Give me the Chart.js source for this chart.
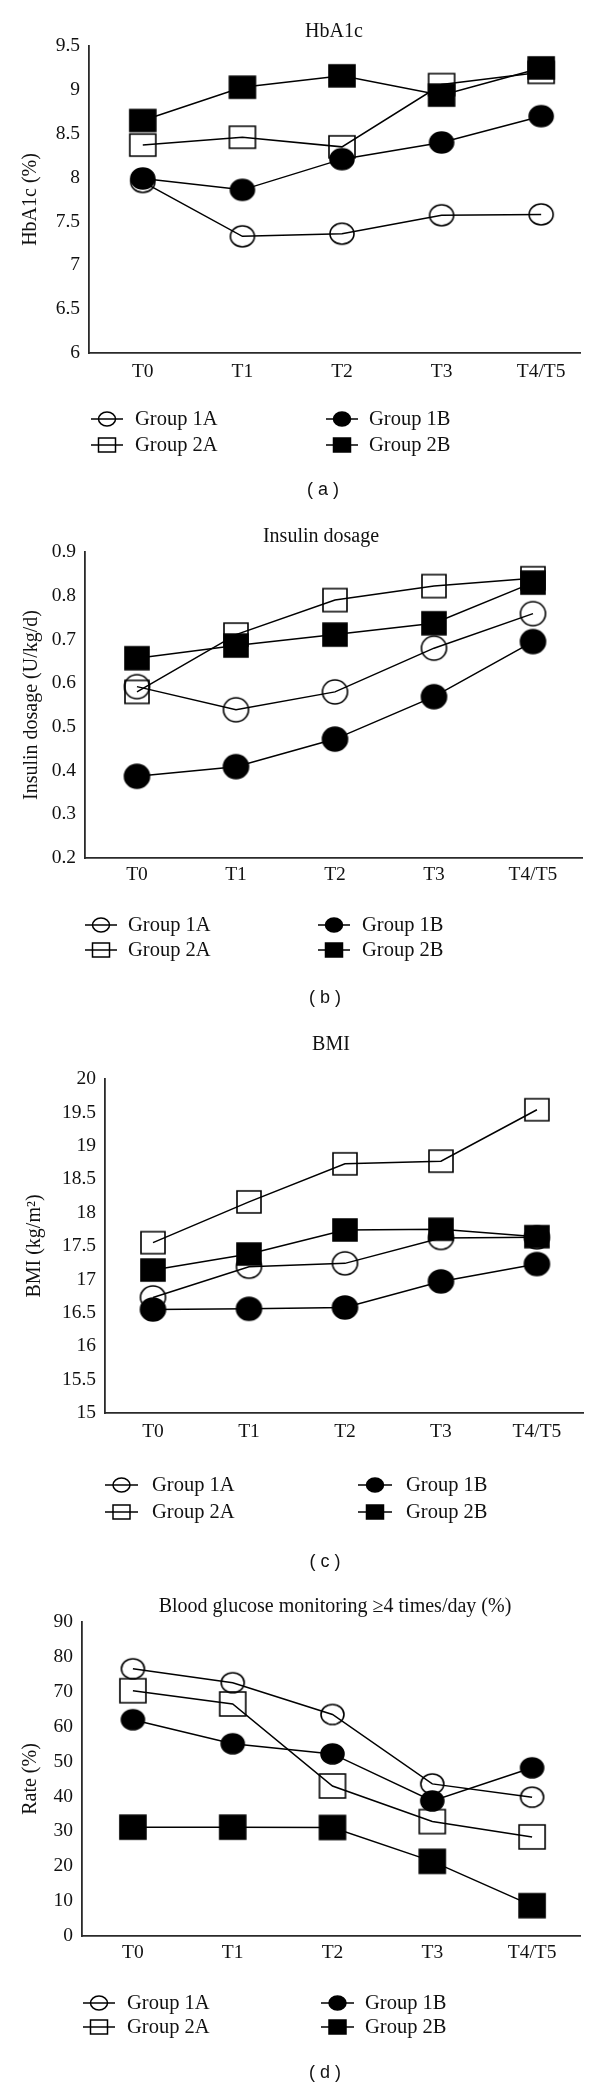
<!DOCTYPE html>
<html><head><meta charset="utf-8">
<script src="https://cdn.jsdelivr.net/npm/chart.js@4.4.1/dist/chart.umd.min.js"></script>
<style>
html,body{margin:0;padding:0;background:#fff}
body{width:600px;height:2090px;position:relative;overflow:hidden}
canvas{position:absolute;left:0;display:block}
</style></head><body>
<canvas id="ca" width="600" height="505" style="top:0px"></canvas>
<canvas id="cb" width="600" height="515" style="top:505px"></canvas>
<canvas id="cc" width="600" height="555" style="top:1020px"></canvas>
<canvas id="cd" width="600" height="515" style="top:1575px"></canvas>
<script>
// ---- data ----
const timePoints = ['T0', 'T1', 'T2', 'T3', 'T4/T5'];
const groupLabels = ['Group 1A', 'Group 1B', 'Group 2A', 'Group 2B'];

const hba1c1A = [7.95, 7.33, 7.36, 7.57, 7.58];
const hba1c1B = [7.99, 7.86, 8.21, 8.40, 8.70];
const hba1c2A = [8.37, 8.46, 8.35, 9.06, 9.20];
const hba1c2B = [8.65, 9.03, 9.16, 8.94, 9.25];

const insulin1A = [0.592, 0.539, 0.580, 0.680, 0.759];
const insulin1B = [0.387, 0.409, 0.472, 0.569, 0.695];
const insulin2A = [0.580, 0.711, 0.790, 0.822, 0.840];
const insulin2B = [0.657, 0.686, 0.711, 0.737, 0.830];

const bmi1A = [16.73, 17.19, 17.24, 17.62, 17.63];
const bmi1B = [16.55, 16.56, 16.58, 16.97, 17.23];
const bmi2A = [17.55, 18.16, 18.73, 18.77, 19.54];
const bmi2B = [17.14, 17.38, 17.74, 17.75, 17.64];

const bg1A = [76.6, 72.6, 63.5, 43.6, 39.8];
const bg1B = [62.0, 55.1, 52.2, 38.7, 48.2];
const bg2A = [70.3, 66.5, 43.0, 32.8, 28.4];
const bg2B = [31.2, 31.2, 31.1, 21.4, 8.7];

// ---- styling ----
const SERIF = "'Liberation Serif', 'Times New Roman', serif";
const SANS = "'Liberation Sans', Arial, sans-serif";
const INK = '#111';
const groupStyles = [
  {shape: 'circle', filled: false},
  {shape: 'circle', filled: true},
  {shape: 'rect', filled: false},
  {shape: 'rect', filled: true}
];
const drawOrder = [3, 1, 2, 0];

const panels = [
  { id: 'ca', height: 505, title: 'HbA1c', titleX: 334, titleY: 32, yTitle: 'HbA1c (%)', yTitlePad: 20,
    left: 89, right: 580, chartTop: 46, chartBottom: 353, xMin: -0.54, xMax: 4.39,
    yMin: 6, yMax: 9.5, yStep: 0.5, xPad: 8,
    legendRows: [419, 445], legendCols: [{x1: 91, x2: 123, tx: 135}, {x1: 326, x2: 358, tx: 369}],
    label: '( a )', labelX: 323, labelY: 490,
    series: [hba1c1A, hba1c1B, hba1c2A, hba1c2B], marker: {cw: 24, ch: 21, sw: 26, sh: 22} },
  { id: 'cb', height: 515, title: 'Insulin dosage', titleX: 321, titleY: 32, yTitle: 'Insulin dosage (U/kg/d)', yTitlePad: 21,
    left: 85, right: 582, chartTop: 47, chartBottom: 353, xMin: -0.525, xMax: 4.495,
    yMin: 0.2, yMax: 0.9, yStep: 0.1, xPad: 6,
    legendRows: [420, 445], legendCols: [{x1: 85, x2: 117, tx: 128}, {x1: 318, x2: 350, tx: 362}],
    label: '( b )', labelX: 325, labelY: 493,
    series: [insulin1A, insulin1B, insulin2A, insulin2B], marker: {cw: 25, ch: 24, sw: 24, sh: 23} },
  { id: 'cc', height: 555, title: 'BMI', titleX: 331, titleY: 25, yTitle: 'BMI (kg/m²)', yTitlePad: 24,
    left: 105, right: 583, chartTop: 59, chartBottom: 393, xMin: -0.5, xMax: 4.48,
    yMin: 15, yMax: 20, yStep: 0.5, xPad: 8,
    legendRows: [465, 492], legendCols: [{x1: 105, x2: 138, tx: 152}, {x1: 358, x2: 392, tx: 406}],
    label: '( c )', labelX: 325, labelY: 542,
    series: [bmi1A, bmi1B, bmi2A, bmi2B], marker: {cw: 25, ch: 23, sw: 24, sh: 22} },
  { id: 'cd', height: 515, title: 'Blood glucose monitoring ≥4 times/day (%)', titleX: 335, titleY: 32, yTitle: 'Rate (%)', yTitlePad: 20,
    left: 82, right: 580, chartTop: 47, chartBottom: 361, xMin: -0.51, xMax: 4.48,
    yMin: 0, yMax: 90, yStep: 10, xPad: 6,
    legendRows: [428, 452], legendCols: [{x1: 83, x2: 115, tx: 127}, {x1: 321, x2: 354, tx: 365}],
    label: '( d )', labelX: 325, labelY: 498,
    series: [bg1A, bg1B, bg2A, bg2B], marker: {cw: 23, ch: 20, sw: 26, sh: 24} }
];

function markerPath(ctx, shape, x, y, w, h) {
  ctx.beginPath();
  if (shape === 'circle') ctx.ellipse(x, y, w / 2, h / 2, 0, 0, Math.PI * 2);
  else ctx.rect(x - w / 2, y - h / 2, w, h);
}

function markerImage(shape, filled, w, h) {
  const c = document.createElement('canvas');
  c.width = w + 4; c.height = h + 4;
  const g = c.getContext('2d');
  g.lineWidth = 1.6; g.strokeStyle = '#000'; g.fillStyle = '#000';
  markerPath(g, shape, c.width / 2, c.height / 2, w, h);
  if (filled) g.fill();
  g.stroke();
  return c;
}

function makeDecor(p) {
  return {
    id: 'panelDecor',
    afterDraw(chart) {
      const ctx = chart.ctx;
      ctx.save();
      ctx.fillStyle = INK;
      ctx.textBaseline = 'middle';
      ctx.textAlign = 'center';
      ctx.font = '20px ' + SERIF;
      ctx.fillText(p.title, p.titleX, p.titleY);
      // legend
      ctx.textAlign = 'left';
      chart.data.datasets.forEach((ds, i) => {
        const col = p.legendCols[i % 2];
        const y = p.legendRows[Math.floor(i / 2)];
        ctx.strokeStyle = '#000';
        ctx.fillStyle = '#000';
        ctx.lineWidth = 1.5;
        ctx.beginPath();
        ctx.moveTo(col.x1, y); ctx.lineTo(col.x2, y);
        ctx.stroke();
        markerPath(ctx, ds.markerShape, (col.x1 + col.x2) / 2, y, 17, 14);
        if (ds.markerFilled) ctx.fill();
        ctx.stroke();
        ctx.fillStyle = INK;
        ctx.font = '20.5px ' + SERIF;
        ctx.fillText(ds.label, col.tx, y + 1);
      });
      ctx.textAlign = 'center';
      ctx.font = '18px ' + SANS;
      ctx.fillText(p.label, p.labelX, p.labelY);
      ctx.restore();
    }
  };
}

function buildChart(p) {
  const datasets = groupLabels.map((label, gi) => {
    const st = groupStyles[gi];
    const w = st.shape === 'circle' ? p.marker.cw : p.marker.sw;
    const h = st.shape === 'circle' ? p.marker.ch : p.marker.sh;
    return {
      label,
      data: p.series[gi].map((v, i) => ({x: i, y: v})),
      borderColor: '#000', borderWidth: 1.5, backgroundColor: '#000',
      pointStyle: markerImage(st.shape, st.filled, w, h),
      pointRadius: 12, pointHoverRadius: 12,
      tension: 0, fill: false, order: drawOrder[gi], clip: false,
      markerShape: st.shape, markerFilled: st.filled
    };
  });
  const axisBorder = {display: true, color: '#2a2a2a', width: 1.8};
  new Chart(document.getElementById(p.id), {
    type: 'line',
    data: {datasets},
    options: {
      responsive: false, animation: false, events: [],
      layout: {padding: {left: 0, top: p.chartTop, right: 600 - p.right, bottom: p.height - p.chartBottom - 30}},
      plugins: {legend: {display: false}, tooltip: {enabled: false}, title: {display: false}},
      scales: {
        x: {
          type: 'linear', min: p.xMin, max: p.xMax,
          afterBuildTicks: s => { s.ticks = timePoints.map((_, i) => ({value: i})); },
          afterFit: s => { s.height = 30; },
          ticks: {callback: v => timePoints[v], font: {family: SERIF, size: 19.5, lineHeight: 1.2}, color: INK,
                  padding: p.xPad - 1, autoSkip: false, maxRotation: 0, minRotation: 0},
          grid: {display: false, drawTicks: false},
          border: axisBorder
        },
        y: {
          min: p.yMin, max: p.yMax,
          afterFit: s => { s.width = p.left; },
          ticks: {stepSize: p.yStep, callback: v => String(Math.round(v * 100) / 100),
                  font: {family: SERIF, size: 19.5}, color: INK, padding: 9},
          grid: {display: false, drawTicks: false},
          border: axisBorder,
          title: {display: true, text: p.yTitle, color: INK, font: {family: SERIF, size: 20, lineHeight: 1.2},
                  padding: {top: p.yTitlePad - 1, bottom: 0}}
        }
      }
    },
    plugins: [makeDecor(p)]
  });
}

panels.forEach(buildChart);
</script>
</body></html>
